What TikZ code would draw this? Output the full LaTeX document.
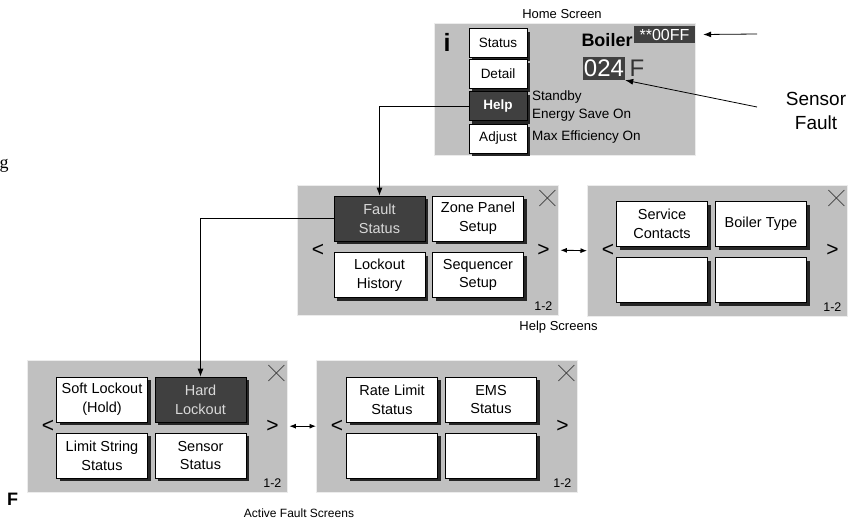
\documentclass[tikz,border=0pt]{standalone}
\usepackage{fontspec}
\setmainfont{Liberation Sans}
\newfontfamily\seriffont{Liberation Serif}
\usetikzlibrary{shadows,arrows.meta}
\definecolor{panelgray}{RGB}{192,192,192}
\definecolor{keydark}{RGB}{64,64,64}
\newcommand{\fs}[1]{\fontsize{#1}{\dimexpr #1pt*13/10\relax}\selectfont}

\begin{document}
\begin{tikzpicture}[x=1pt,y=-1pt,
  panel/.style={draw=white!70!panelgray, fill=panelgray, anchor=north west, inner sep=0pt},
  key/.style={draw=black, fill=white, line width=0.8pt, minimum width=91pt, minimum height=45pt,
    align=center, inner sep=1pt, font=\fs{14.5},
    drop shadow={shadow xshift=3pt, shadow yshift=-3pt, fill=black!85, opacity=1}},
  hotkey/.style={key, fill=keydark, text=black!15},
  homekey/.style={key, minimum width=58pt, minimum height=29pt, font=\fs{13.5}},
  conn/.style={-{Latex[length=8pt,width=6pt]}, line width=0.8pt},
  dbl/.style={{Latex[length=6.5pt,width=5pt]}-{Latex[length=6.5pt,width=5pt]}, line width=0.9pt},
  title/.style={font=\fs{13}, inner sep=0pt}]
  \useasboundingbox (0,0) rectangle (856,522);

  % home screen
  \node[title] (hometitle) at (562,14) {Home Screen};
  \node[panel, minimum width=261pt, minimum height=132pt] (home) at (434,23) {};
  \node[font=\bfseries\fs{25}, inner sep=0pt] (info) at (447,42) {i};
  \node[homekey] (status) at (498,43) {Status};
  \node[homekey] (detail) at (498,74) {Detail};
  \node[homekey, fill=keydark, text=white, font=\bfseries\fs{13.5}] (help) at (498,106) {Help};
  \node[homekey] (adjust) at (498,138.5) {Adjust};
  \node[font=\bfseries\fs{18}, inner sep=0pt] (boiler) at (607,40) {Boiler};
  \node[fill=keydark, text=white, font=\fs{16}, minimum width=61pt, minimum height=17pt, inner sep=0pt] (code) at (664.5,34.5) {**00FF};
  \node[fill=keydark, text=white, font=\fs{24}, minimum width=42pt, minimum height=23pt, inner sep=0pt] (temp) at (604,68.5) {024};
  \node[font=\fs{24}, text=black!80, inner sep=0pt] (unit) at (637,68) {F};
  \node[anchor=west, font=\fs{13.5}, inner sep=0pt] (standby) at (532,97) {Standby};
  \node[anchor=west, font=\fs{13.5}, inner sep=0pt] (energy) at (532,115) {Energy Save On};
  \node[anchor=west, font=\fs{13.5}, inner sep=0pt] (maxeff) at (532,137) {Max Efficiency On};

  \node[align=center, font=\fs{19}, inner sep=0pt] (sensorfault) at (816,111) {Sensor\\Fault};
  \coordinate (codeend) at (757,34);
  \coordinate (sensorend) at (757,107);
  \draw[conn] (codeend) -- ([xshift=8pt]code.east);
  \draw[conn] (sensorend) -- (temp.south east);

  % help screens
  \node[panel, minimum width=261pt, minimum height=130pt] (helpA) at (297,185) {};
  \node[panel, minimum width=260pt, minimum height=131pt] (helpB) at (587,185) {};
  \node[hotkey] (faultstatus) at (379.5,218.5) {Fault\\Status};
  \node[key] (zonepanel) at (478,218.5) {Zone Panel\\Setup};
  \node[key] (lockouthist) at (379.5,275) {Lockout\\History};
  \node[key] (sequencer) at (478,275) {Sequencer\\Setup};
  \node[key] (service) at (662,224) {Service\\Contacts};
  \node[key] (boilertype) at (761,224) {Boiler Type};
  \node[key] (helpempA) at (662,280) {};
  \node[key] (helpempB) at (761,280) {};
  \node[title] (helptitle) at (558.5,327) {Help Screens};

  % active fault screens
  \node[panel, minimum width=260pt, minimum height=132pt] (faultA) at (27,360) {};
  \node[panel, minimum width=261pt, minimum height=132pt] (faultB) at (316,360) {};
  \node[key] (softlock) at (102,399.5) {Soft Lockout\\(Hold)};
  \node[hotkey] (hardlock) at (200.5,399.5) {Hard\\Lockout};
  \node[key] (limitstring) at (102,455.5) {Limit String\\Status};
  \node[key] (sensorstatus) at (200.5,455.5) {Sensor\\Status};
  \node[key] (ratelimit) at (392,399.5) {Rate Limit\\Status};
  \node[key] (ems) at (491,399.5) {EMS\\Status};
  \node[key] (faultempA) at (392,455.5) {};
  \node[key] (faultempB) at (491,455.5) {};
  \node[title, font=\fs{12}] (faulttitle) at (299,513) {Active Fault Screens};

  % close mark, page arrows and page number on every menu screen
  \foreach \p in {helpA,helpB,faultA,faultB} {
    \draw[line width=0.6pt, black!75] ([shift={(-19,5)}]\p.north east) -- ++(16,16)
      ([shift={(-19,21)}]\p.north east) -- ++(16,-16);
    \node[font=\fs{21}, inner sep=0pt] at ([xshift=21pt]\p.west) {<};
    \node[font=\fs{21}, inner sep=0pt] at ([xshift=-15pt]\p.east) {>};
    \node[font=\fs{12.5}, inner sep=0pt] at ([shift={(-15,-9)}]\p.south east) {1-2};
  }

  \draw[conn] (help.west) -| (faultstatus.north);
  \draw[conn] (faultstatus.west) -| (hardlock.north);
  \draw[dbl] ([xshift=2pt]helpA.east) -- (helpB.west);
  \draw[dbl] ([xshift=2pt]faultA.east) -- (faultB.west);

  % cut-off text at the edges
  \node[anchor=base west, font=\seriffont\fs{18}, inner sep=0pt] (cutg) at (-0.5,168) {g};
  \node[anchor=base west, font=\bfseries\fs{18}, inner sep=0pt] (cutf) at (7,505) {F};
\end{tikzpicture}
\end{document}
